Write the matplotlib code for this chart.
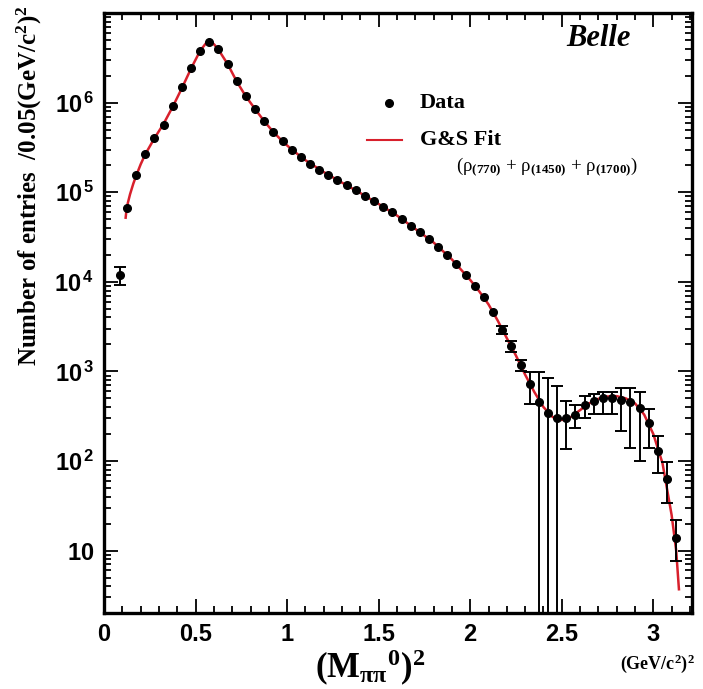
import numpy as np
import matplotlib
matplotlib.use("Agg")
import matplotlib.pyplot as plt
from matplotlib.ticker import FixedLocator, FixedFormatter, LogLocator, MultipleLocator, NullFormatter

plt.rcParams['mathtext.fontset'] = 'custom'
plt.rcParams['mathtext.rm'] = 'Liberation Serif:bold'
plt.rcParams['mathtext.it'] = 'Liberation Serif:bold'
plt.rcParams['mathtext.bf'] = 'Liberation Serif:bold'
plt.rcParams['mathtext.sf'] = 'Liberation Sans:bold'

# data points (bin centres, entries per 0.05 (GeV/c^2)^2)
data_x = [0.085, 0.125, 0.175, 0.225, 0.275, 0.325, 0.375, 0.425, 0.475, 0.525,
          0.575, 0.625, 0.675, 0.725, 0.775, 0.825, 0.875, 0.925, 0.975, 1.025,
          1.075, 1.125, 1.175, 1.225, 1.275, 1.325, 1.375, 1.425, 1.475, 1.525,
          1.575, 1.625, 1.675, 1.725, 1.775, 1.825, 1.875, 1.925, 1.975, 2.025,
          2.075, 2.125, 2.175, 2.225, 2.275, 2.325, 2.375, 2.425, 2.475, 2.525,
          2.575, 2.625, 2.675, 2.725, 2.775, 2.825, 2.875, 2.925, 2.975, 3.025,
          3.075, 3.125]
data_y = [1.2e4, 6.6e4, 1.57e5, 2.69e5, 4.0e5, 5.7e5, 9.1e5, 1.48e6, 2.44e6, 3.8e6,
          4.7e6, 4.0e6, 2.73e6, 1.73e6, 1.18e6, 8.6e5, 6.2e5, 4.7e5, 3.7e5, 3.0e5,
          2.47e5, 2.08e5, 1.78e5, 1.57e5, 1.38e5, 1.19e5, 1.05e5, 9.2e4, 8.0e4, 6.9e4,
          6.0e4, 5.0e4, 4.2e4, 3.6e4, 3.0e4, 2.48e4, 2.0e4, 1.58e4, 1.2e4, 9.1e3,
          6.7e3, 4.6e3, 2.9e3, 1.93e3, 1.19e3, 720, 450, 340, 305, 305,
          327, 423, 468, 509, 509, 481, 460, 388, 264, 130,
          63, 14]

# visible error bars (lower / upper ends)
err_x = [0.085, 2.175, 2.225, 2.275, 2.325, 2.375, 2.425, 2.475, 2.525, 2.575,
         2.625, 2.675, 2.725, 2.775, 2.825, 2.875, 2.925, 2.975, 3.025, 3.075, 3.125]
err_y = [1.2e4, 2.9e3, 1.93e3, 1.19e3, 720, 450, 340, 305, 305, 327,
         423, 468, 509, 509, 481, 460, 388, 264, 130, 63, 14]
err_low = [9.3e3, 2.6e3, 1660, 1000, 437, 0.5, 0.5, 0.5, 135, 234,
           302, 339, 339, 339, 219, 141, 100, 141, 74, 34, 7.6]
err_high = [1.45e4, 3.25e3, 2190, 1350, 977, 980, 850, 690, 468, 417,
            525, 562, 589, 589, 646, 661, 589, 380, 190, 98, 22]

# G&S fit curve
fit_x = [0.118, 0.122, 0.13, 0.142, 0.16, 0.175, 0.2, 0.225, 0.275, 0.325,
         0.375, 0.425, 0.475, 0.525, 0.565, 0.575, 0.6, 0.625, 0.675, 0.725,
         0.775, 0.825, 0.875, 0.925, 0.975, 1.025, 1.1, 1.2, 1.3, 1.4,
         1.5, 1.6, 1.7, 1.8, 1.9, 2.0, 2.05, 2.1, 2.15, 2.2,
         2.25, 2.3, 2.35, 2.4, 2.45, 2.5, 2.55, 2.6, 2.65, 2.7,
         2.75, 2.8, 2.85, 2.9, 2.95, 3.0, 3.05, 3.1, 3.125, 3.14]
fit_y = [5.2e4, 6.2e4, 7.6e4, 9.5e4, 1.25e5, 1.52e5, 2.05e5, 2.65e5, 4.0e5, 5.8e5,
         9.0e5, 1.45e6, 2.4e6, 3.8e6, 4.85e6, 4.9e6, 4.5e6, 3.9e6, 2.7e6, 1.72e6,
         1.17e6, 8.5e5, 6.2e5, 4.7e5, 3.7e5, 3.0e5, 2.28e5, 1.68e5, 1.28e5, 9.8e4,
         7.4e4, 5.5e4, 3.9e4, 2.75e4, 1.78e4, 1.05e4, 7.8e3, 5.6e3, 3.7e3, 2.35e3,
         1.5e3, 920, 590, 400, 310, 287, 310, 370, 440, 495,
         525, 530, 500, 440, 330, 200, 95, 25, 10, 3.7]

ytick_vals = [10, 1e2, 1e3, 1e4, 1e5, 1e6]
ytick_labels = [r'$\mathsf{10\ \ }$', r'$\mathsf{10^{\,2}}$', r'$\mathsf{10^{\,3}}$',
                r'$\mathsf{10^{\,4}}$', r'$\mathsf{10^{\,5}}$', r'$\mathsf{10^{\,6}}$']
xtick_vals = [0, 0.5, 1, 1.5, 2, 2.5, 3]
xtick_labels = ['0', '0.5', '1', '1.5', '2', '2.5', '3']

fig = plt.figure(figsize=(7.03, 6.89), dpi=100)
ax = fig.add_axes([0.148, 0.110, 0.836, 0.871])

ax.plot(fit_x, fit_y, color='#d8202c', lw=1.8, zorder=2)

ey = np.array(err_y)
ax.errorbar(err_x, err_y, yerr=[ey - np.array(err_low), np.array(err_high) - ey],
            fmt='none', ecolor='black', elinewidth=1.4, capsize=4, capthick=1.4, zorder=3)
ax.plot(data_x, data_y, 'o', color='black', ms=5.5, zorder=4)

ax.set_yscale('log')
ax.set_xlim(0, 3.21)
ax.set_ylim(2, 1e7)

ax.yaxis.set_major_locator(FixedLocator(ytick_vals))
ax.yaxis.set_major_formatter(FixedFormatter(ytick_labels))
ax.yaxis.set_minor_locator(LogLocator(base=10, subs=np.arange(2, 10), numticks=20))
ax.yaxis.set_minor_formatter(NullFormatter())
ax.xaxis.set_major_locator(FixedLocator(xtick_vals))
ax.xaxis.set_major_formatter(FixedFormatter(xtick_labels))
ax.xaxis.set_minor_locator(MultipleLocator(0.1))

ax.tick_params(which='both', direction='in', top=True, right=True, width=1.3, color='black')
ax.tick_params(which='major', length=10)
ax.tick_params(which='minor', length=5)
ax.tick_params(axis='x', which='major', pad=7, labelsize=17)
ax.tick_params(axis='y', which='major', pad=7, labelsize=17)
for lab in ax.get_xticklabels():
    lab.set_fontfamily('Liberation Sans')
    lab.set_fontweight('bold')
for s in ax.spines.values():
    s.set_linewidth(2.4)

# legend
fig.lines.append(plt.Line2D([389 / 703], [1 - 103 / 689], marker='o', color='black', ms=5.5,
                            transform=fig.transFigure))
fig.lines.append(plt.Line2D([367 / 703, 402 / 703], [1 - 140 / 689] * 2, color='#d8202c', lw=1.5,
                            transform=fig.transFigure))
fig.text(420 / 703, 1 - 103 / 689, 'Data', family='Liberation Serif', weight='bold',
         fontsize=16, va='center', ha='left')
fig.text(420 / 703, 1 - 140 / 689, 'G&S Fit', family='Liberation Serif', weight='bold',
         fontsize=16, va='center', ha='left')
fig.text(456 / 703, 1 - 167 / 689,
         r'(ρ$_{(770)}$ + ρ$_{(1450)}$ + ρ$_{(1700)}$)', family='Liberation Serif',
         fontsize=13.5, va='center', ha='left')

fig.text(598 / 703, 1 - 38 / 689, 'Belle', family='Liberation Serif', weight='bold',
         style='italic', fontsize=22, va='center', ha='center')

# axis titles
fig.text(29 / 703, 1 - 186 / 689, r'Number of entries  /0.05(GeV/c$^{2}$)$^{2}$',
         family='Liberation Serif', weight='bold', fontsize=18, rotation=90,
         va='center', ha='center')
fig.text(370 / 703, 1 - 668 / 689, r'(M$_{\pi\pi}$$^{0}$)$^{2}$',
         family='Liberation Serif', weight='bold', fontsize=25, va='center', ha='center')
fig.text(657 / 703, 1 - 664 / 689, r'(GeV/c$^{2}$)$^{2}$',
         family='Liberation Serif', weight='bold', fontsize=13, va='center', ha='center')

fig.savefig('out.png', dpi=100)
